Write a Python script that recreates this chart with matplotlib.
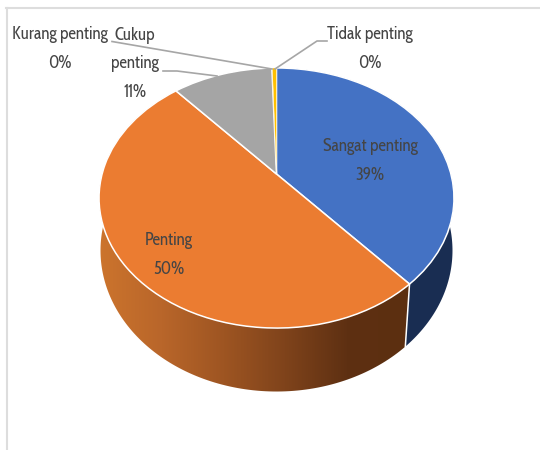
import numpy as np
import matplotlib
matplotlib.use("Agg")
import matplotlib.pyplot as plt
from matplotlib.colors import LinearSegmentedColormap
from matplotlib.patches import Polygon
from matplotlib.transforms import Transform

# data
names = ["Sangat penting", "Penting", "Cukup\npenting", "Kurang penting", "Tidak penting"]
values = [38.6, 50.0, 10.9, 0.05, 0.45]
top_colors = ["#4472C4", "#EB7C31", "#A5A5A5", "#FFC000", "#FFC000"]

plt.rcParams['font.family'] = ['Cabin Condensed', 'Lato', 'DejaVu Sans']
TXT = "#454545"
LINE = "#A6A6A6"

# picture geometry of the tilted disc: top face and floor
CX = 276.5
TOP = dict(a=174.4, b=125.6, k=0.1846, y0=174.0)
FLOOR = dict(a=174.0, b=137.8, k=0.15, y0=229.4)


def project(x, y, g=TOP):
    x = np.asarray(x)
    y = np.asarray(y)
    w = 1 + g['k'] * y
    return CX + g['a'] * x / w, g['y0'] - g['b'] * y / w


class Tilt(Transform):
    input_dims = 2
    output_dims = 2
    is_affine = False

    def transform_non_affine(self, xy):
        xy = np.asarray(xy)
        px, py = project(xy[:, 0], xy[:, 1])
        return np.column_stack([px, py])


fig = plt.figure(figsize=(5.4, 4.5), dpi=100, facecolor="white")
ax = fig.add_axes([0, 0, 1, 1])

wedges, _ = ax.pie(values, colors=top_colors, startangle=90, counterclock=False,
                   wedgeprops=dict(edgecolor="white", linewidth=1.1))
ax.set_aspect("auto")

tilt = Tilt()
for w in wedges:
    w.set_transform(tilt + ax.transData)
    w.set_zorder(5)
# the two thin slices would vanish under a full white edge
wedges[3].set_linewidth(0.3)
wedges[4].set_linewidth(0.3)


def wall(start, end):
    t = np.radians(np.linspace(start, end, 160))
    x, y = np.sin(t), np.cos(t)
    x1, y1 = project(x, y)
    x2, y2 = project(x, y, FLOOR)
    return np.column_stack([np.r_[x1, x2[::-1]], np.r_[y1, y2[::-1]]])


edges = np.cumsum([0] + values) * 3.6

# blue side
ax.add_patch(Polygon(wall(edges[0], edges[1]), closed=True, facecolor="#192D52",
                     edgecolor="none", zorder=2))

# orange side with its gradient
orange_wall = wall(edges[1], edges[2])
cmap = LinearSegmentedColormap.from_list(
    "side", ["#CC742D", "#B9662A", "#9E5522", "#7F431B", "#5E3012", "#5C2F10"])
grad = np.linspace(0, 1, 256).reshape(1, -1)
im = ax.imshow(grad, cmap=cmap, aspect="auto", zorder=3,
               extent=[orange_wall[:, 0].min(), orange_wall[:, 0].max(), 450, 0])
clip = Polygon(orange_wall, closed=True, transform=ax.transData, facecolor="none", edgecolor="none")
ax.add_patch(clip)
im.set_clip_path(clip)

# white seam where the two sides meet
s = np.sin(np.radians(edges[1]))
c = np.cos(np.radians(edges[1]))
sx, sy = project(s, c)
fx, fy = project(s, c, FLOOR)
ax.plot([sx, fx], [sy, fy], color="white", lw=1.1, zorder=4)

ax.set_xlim(0, 540)
ax.set_ylim(450, 0)
ax.axis("off")

# frame of the pasted chart
ax.plot([6, 540], [8, 8], color="#DDDDDD", lw=1.5, zorder=1)
ax.plot([6.5, 6.5], [8, 450], color="#DDDDDD", lw=1.5, zorder=1)

# leader lines
ax.plot([112, 272], [41.5, 69], color=LINE, lw=1.2, zorder=6)
ax.plot([163, 177, 217], [71, 71, 76], color=LINE, lw=1.2, zorder=6)
ax.plot([327, 317, 275], [41, 41, 69], color=LINE, lw=1.2, zorder=6)

# labels
pos = [(370, 161), (169, 255), (135, 64), (60, 49), (370, 49)]
for name, v, (x, y) in zip(names, values, pos):
    ax.text(x, y, f"{name}\n{round(v)}%", ha="center", va="center", color=TXT,
            fontsize=12.3, linespacing=1.85, zorder=7)

fig.savefig("out.png", dpi=100)
